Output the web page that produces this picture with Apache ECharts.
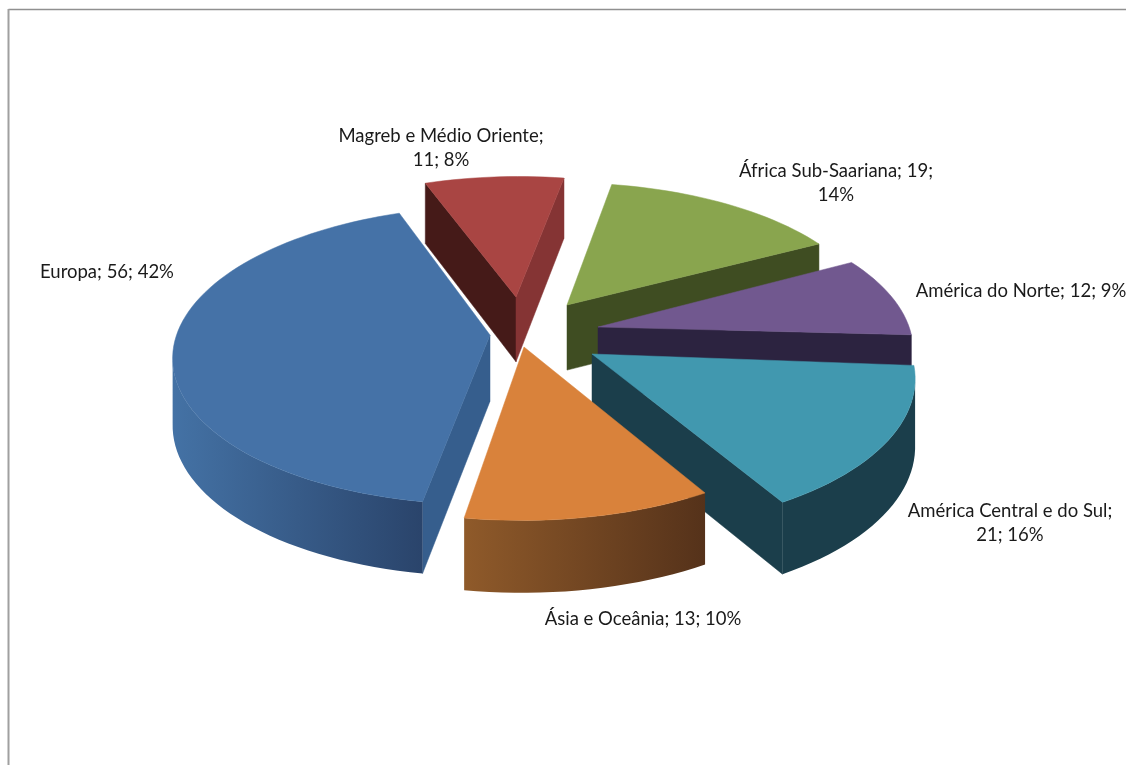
<!DOCTYPE html>
<html>
<head>
<meta charset="utf-8">
<style>html,body{margin:0;padding:0;background:#fff}#c{width:1126px;height:765px}</style>
<script src="https://cdn.jsdelivr.net/npm/echarts@6/dist/echarts.min.js"></script>
</head>
<body>
<div id="c"></div>
<script>
const categories = ['Europa','Magreb e Médio Oriente','África Sub-Saariana','América do Norte','América Central e do Sul','Ásia e Oceânia'];
const values = [56, 11, 19, 12, 21, 13];
const percents = [42, 8, 14, 9, 16, 10];

// styling tables
const topColors = ['#4572a7','#a94543','#89a54e','#71588f','#4198af','#d9823b'];
const wallStart = ['#365e8d','#451a18','#3f4d22','#2c2340','#1b3e4b','#5a351a'];
const wallEnd   = ['#2c4a72','#853434','#3f4d22','#2c2340','#1b3e4b','#5a351a'];
const arcLeft   = ['#4472a5','#451a18','#3f4d22','#2c2340','#1b3e4b','#8f5a2a'];
const arcRight  = ['#2a446b','#853434','#3f4d22','#2c2340','#1b3e4b','#55321a'];
const drawRank  = [4, 0, 1, 2, 3, 5];
const tipOffset = [[-50,5],[-24,-33],[27,-25],[58,-3],[52,24],[-16,17]];
const lensStart = [1.5, -1, -0.5, -1, -1, -3.2];   // perspective lens correction, degrees
const lensEnd   = [-1, -1, -0.5, -2.2, -3, 1];
const labelLines = [[0],[1],[1],[0],[1],[0]];
const labelBoxes = [[107,272],[441,136],[836,171],[1021,291],[1010,511],[643,619]];
const startAngle = 188, cx = 540, cy = 330, Rx = 312, Ry = 145, K = 0.135, H = 66;
const total = values.reduce((a,b)=>a+b,0);

function unproject(dx, dy){
  const t = -dy / Ry, v = t / (1 - K * t), s = 1 / (1 + K * v);
  return [dx / (Rx * s), v];
}
function project(u, v, low){
  const s = 1 / (1 + K * v);
  return [cx + Rx * u * s, cy - Ry * v * s + (low ? H / (1 + 0.08 * v) : 0)];
}
function renderItem(params, api){
  const i = api.value(0), val = api.value(1);
  let before = 0;
  for (let j = 0; j < i; j++) before += values[j];
  const a0 = startAngle + before / total * 360 + lensStart[i];
  const a1 = startAngle + (before + val) / total * 360 + lensEnd[i];
  const [cu, cv] = unproject(tipOffset[i][0], tipOffset[i][1]);
  const rim = [], rimLow = [];
  const n = Math.max(8, Math.round((a1 - a0) / 2));
  for (let k = 0; k <= n; k++){
    const a = (a0 + (a1 - a0) * k / n) * Math.PI / 180;
    const u = cu + Math.sin(a), v = cv + Math.cos(a);
    rim.push(project(u, v, false));
    rimLow.push(project(u, v, true));
  }
  const tip = project(cu, cv, false), tipLow = project(cu, cv, true);
  const z = drawRank[i] * 10;
  const poly = (points, fill, dz) => ({
    type: 'polygon', z2: z + dz, silent: true,
    shape: { points },
    style: { fill, stroke: typeof fill === 'string' ? fill : null, lineWidth: 0.5 }
  });
  const children = [];
  // radial walls: only those that face the viewer
  if (rim[0][0] < tip[0]) children.push(poly([tip, rim[0], rimLow[0], tipLow], wallStart[i], 1));
  if (rim[n][0] > tip[0]) children.push(poly([tip, rim[n], rimLow[n], tipLow], wallEnd[i], 2));
  // outer wall: only the stretch of the rim that faces the viewer
  const front = [], frontLow = [];
  for (let k = 0; k < n; k++){
    if (rim[k + 1][0] < rim[k][0]){
      if (!front.length){ front.push(rim[k]); frontLow.push(rimLow[k]); }
      front.push(rim[k + 1]); frontLow.push(rimLow[k + 1]);
    }
  }
  if (front.length){
    const grad = new echarts.graphic.LinearGradient(0, 0, 1, 0, [
      { offset: 0, color: arcLeft[i] }, { offset: 1, color: arcRight[i] }
    ]);
    children.push(poly(front.concat(frontLow.reverse()), grad, 3));
  }
  children.push(poly([tip].concat(rim), topColors[i], 4));
  const words = [categories[i] + ';', val + ';', percents[i] + '%'];
  const text = labelLines[i][0] === 0 ? [words.join(' ')]
    : (i === 4 || i === 1) ? [words[0], words[1] + ' ' + words[2]]
    : [words[0] + ' ' + words[1], words[2]];
  text.forEach((line, idx) => children.push({
    type: 'text', z2: 100, silent: true,
    style: {
      x: labelBoxes[i][0], y: labelBoxes[i][1] + idx * 24,
      text: line, align: 'center', verticalAlign: 'middle',
      fill: '#1a1a1a', font: '18.5px Lato'
    }
  }));
  return { type: 'group', children };
}

const chart = echarts.init(document.getElementById('c'), null, { renderer: 'canvas' });
chart.setOption({
  animation: false,
  backgroundColor: '#ffffff',
  graphic: [
    { type: 'line', shape: { x1: 8.5, y1: 9.5, x2: 1126, y2: 9.5 }, style: { stroke: '#909090', lineWidth: 1.5 } },
    { type: 'line', shape: { x1: 8.5, y1: 9, x2: 8.5, y2: 765 }, style: { stroke: '#a0a0a0', lineWidth: 2 } }
  ],
  series: [{
    type: 'custom',
    coordinateSystem: 'none',
    renderItem,
    data: values.map((v, i) => [i, v])
  }]
});
</script>
</body>
</html>
